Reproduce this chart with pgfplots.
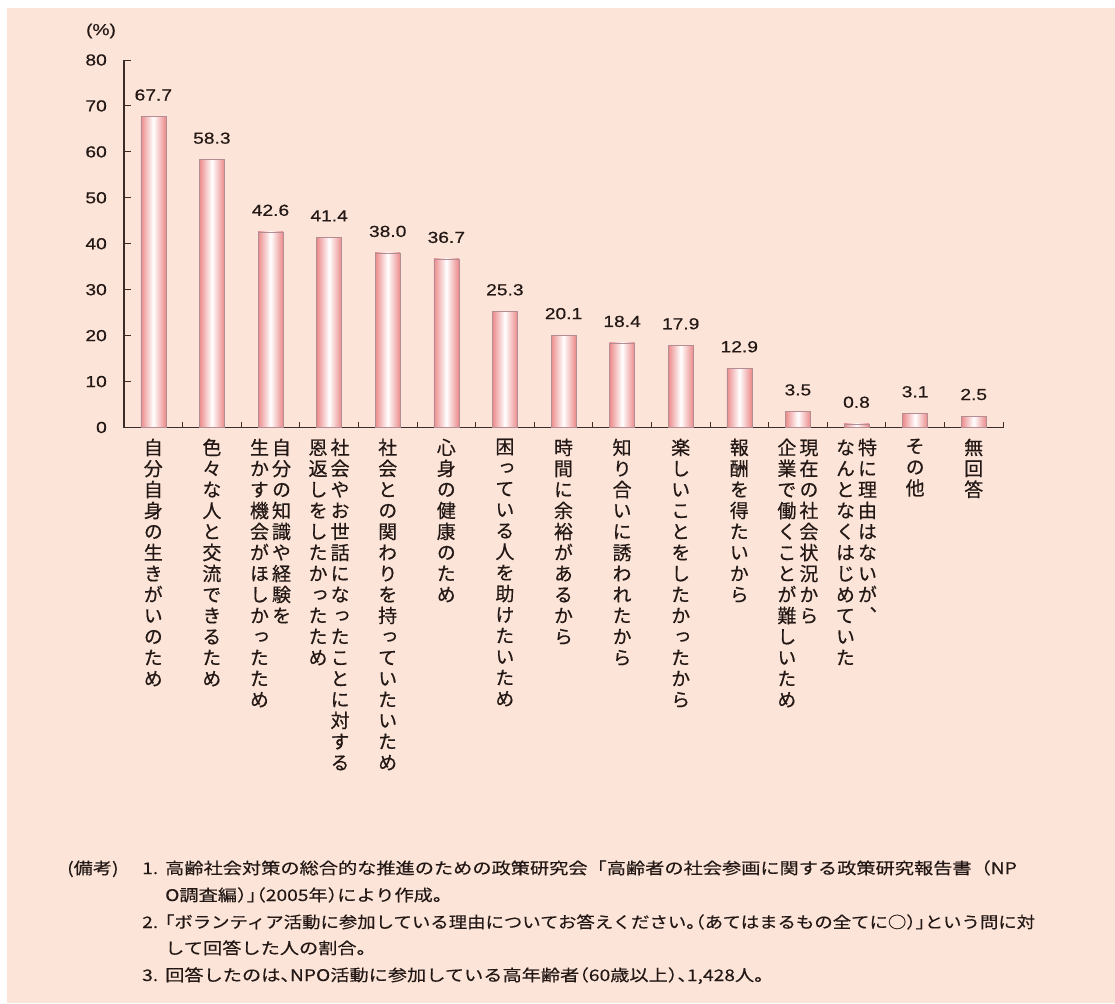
\documentclass[border=0pt]{standalone}
\usepackage{pgfplots}
\pgfplotsset{compat=1.18}
\usepackage{fontspec}
\setmainfont{Noto Sans CJK JP}
\newfontfamily\vfont[RawFeature={+vert},FakeBold=0.5]{Noto Sans CJK JP}
\newfontfamily\notefont[FakeStretch=1.2,FakeBold=0.4]{Noto Sans CJK JP}
\newfontfamily\notefonth[FakeStretch=1.2,FakeBold=0.4,RawFeature={+halt}]{Noto Sans CJK JP}
\newfontfamily\notefonthc[FakeStretch=1.15,FakeBold=0.4,RawFeature={+halt}]{Noto Sans CJK JP}
\newfontfamily\numfont[FakeStretch=1.2,FakeBold=0.5]{Liberation Sans}
\definecolor{bgpeach}{RGB}{252,229,216}
\definecolor{txt}{RGB}{35,24,21}
\definecolor{axline}{RGB}{60,45,40}
\definecolor{barpink}{RGB}{236,138,138}
\definecolor{barline}{RGB}{180,140,148}
\makeatletter
\def\vc@end{\vc@end}
\def\vc#1{\vtop{\baselineskip=21pt\lineskip=0pt\lineskiplimit=-100pt\vc@aux#1\vc@end}}
\def\vc@aux#1{\ifx#1\vc@end\else\hbox to 21pt{\hss#1\hss}\expandafter\vc@aux\fi}
\makeatother
\newcommand\vtwo[2]{\hbox{\vc{#2}\kern1pt\vc{#1}}}
\pgfplotsset{mybar/.style={ybar, bar width=25pt, bar shift=0pt, draw=barline, line width=0.6pt,
  left color=barpink, right color=barpink, middle color=white,
  nodes near coords={\pgfmathprintnumber[fixed,fixed zerofill,precision=1]{\pgfplotspointmeta}},
  every node near coord/.append style={font=\numfont\fontsize{16}{16}\selectfont, text=txt, anchor=base, inner sep=0pt, yshift=16pt}}}
\begin{document}
\begin{tikzpicture}
\fill[white] (0,0) rectangle (1115pt,-1003pt);
\fill[bgpeach] (7pt,-8pt) rectangle (1115pt,-1003pt);
\begin{axis}[
  scale only axis, width=879pt, height=367.5pt,
  at={(124pt,-427.5pt)}, anchor=south west,
  xmin=0.5, xmax=15.5, ymin=0, ymax=80,
  axis x line*=bottom, axis y line*=left,
  axis line style={draw=axline, line width=1.1pt, -},
  ytick={0,10,...,80},
  xtick={1,...,15},
  minor xtick={0.5,1.5,...,15.5},
  tick align=inside,
  major tick length=7pt, minor tick length=6pt,
  tick style={draw=axline, line width=1pt},
  major x tick style={draw=none},
  /pgf/number format/assume math mode=true,
  yticklabel style={font=\numfont\fontsize{16}{16}\selectfont, text=txt, anchor=east, inner sep=0pt, xshift=-17pt},
  xticklabel style={anchor=north, inner sep=0pt, yshift=-11pt, font=\vfont\fontsize{19}{21}\selectfont, text=txt},
  xticklabels={
    {\vc{自分自身の生きがいのため}},
    {\vc{色々な人と交流できるため}},
    {\vtwo{自分の知識や経験を}{生かす機会がほしかったため}},
    {\vtwo{社会やお世話になったことに対する}{恩返しをしたかったため}},
    {\vc{社会との関わりを持っていたいため}},
    {\vc{心身の健康のため}},
    {\vc{困っている人を助けたいため}},
    {\vc{時間に余裕があるから}},
    {\vc{知り合いに誘われたから}},
    {\vc{楽しいことをしたかったから}},
    {\vc{報酬を得たいから}},
    {\vtwo{現在の社会状況から}{企業で働くことが難しいため}},
    {\vtwo{特に理由はないが、}{なんとなくはじめていた}},
    {\vc{その他}},
    {\vc{無回答}}
  },
]
\addplot[mybar] coordinates {(1,67.7)};
\addplot[mybar] coordinates {(2,58.3)};
\addplot[mybar] coordinates {(3,42.6)};
\addplot[mybar] coordinates {(4,41.4)};
\addplot[mybar] coordinates {(5,38.0)};
\addplot[mybar] coordinates {(6,36.7)};
\addplot[mybar] coordinates {(7,25.3)};
\addplot[mybar] coordinates {(8,20.1)};
\addplot[mybar] coordinates {(9,18.4)};
\addplot[mybar] coordinates {(10,17.9)};
\addplot[mybar] coordinates {(11,12.9)};
\addplot[mybar] coordinates {(12,3.5)};
\addplot[mybar] coordinates {(13,0.8)};
\addplot[mybar] coordinates {(14,3.1)};
\addplot[mybar] coordinates {(15,2.5)};
\end{axis}
\node[font=\numfont\fontsize{16}{16}\selectfont, text=txt] at (101pt,-31pt) {(\%)};
\begin{scope}[every node/.style={anchor=base west, inner sep=0pt, text=txt, font=\notefont\fontsize{16}{16}\selectfont}]
\node at (67pt,-874pt) {\notefonth(備考)};
\node at (142pt,-874pt) {1.};
\node at (165pt,-874pt) {高齢社会対策の総合的な推進のための政策研究会「高齢者の社会参画に関する政策研究報告書（NP};
\node at (165pt,-901pt) {\notefonth O調査編）」（2005年）により作成。};
\node at (142pt,-928pt) {2.};
\node at (165pt,-928pt) {\notefonthc「ボランティア活動に参加している理由についてお答えください。（あてはまるもの全てに○）」という問に対};
\node at (165pt,-954pt) {して回答した人の割合。};
\node at (142pt,-981pt) {3.};
\node at (165pt,-981pt) {\notefonth 回答したのは、NPO活動に参加している高年齢者（60歳以上）、1,428人。};
\end{scope}
\pgfresetboundingbox
\path[use as bounding box] (0,0) rectangle (1115pt,-1003pt);
\end{tikzpicture}
\end{document}
